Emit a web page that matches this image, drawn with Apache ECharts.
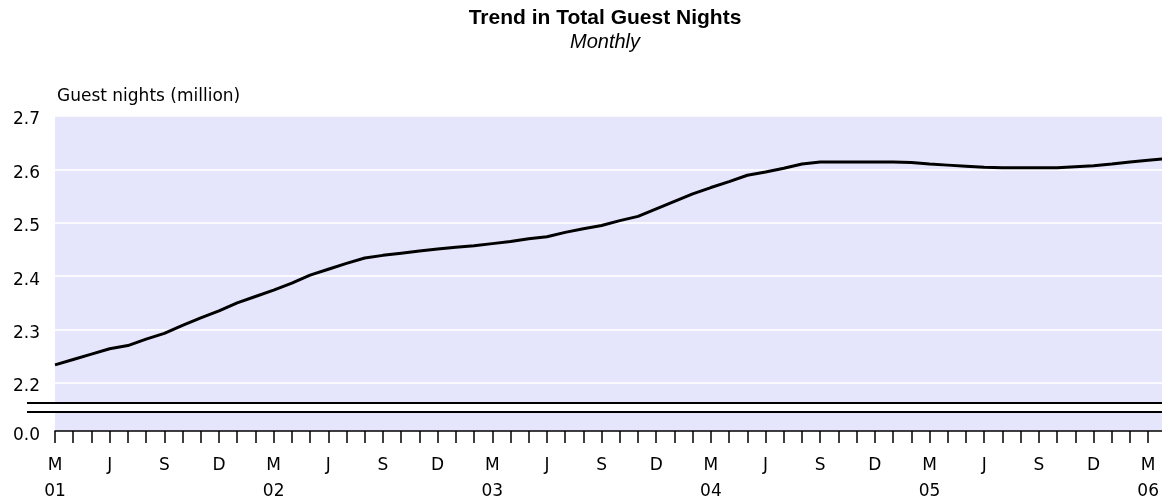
<!DOCTYPE html>
<html>
<head>
<meta charset="utf-8">
<script src="https://cdn.jsdelivr.net/npm/echarts@6.0.0/dist/echarts.min.js"></script>
<style>
  html, body { margin: 0; padding: 0; background: #fff; }
  #main { width: 1162px; height: 499px; }
</style>
</head>
<body>
<div id="main"></div>
<script>
// months shown on the axis, Mar 2001 .. Apr 2006
var months = [
  'Mar 01', 'Apr 01', 'May 01', 'Jun 01', 'Jul 01', 'Aug 01', 'Sep 01', 'Oct 01', 'Nov 01', 'Dec 01', 'Jan 02', 'Feb 02',
  'Mar 02', 'Apr 02', 'May 02', 'Jun 02', 'Jul 02', 'Aug 02', 'Sep 02', 'Oct 02', 'Nov 02', 'Dec 02', 'Jan 03', 'Feb 03',
  'Mar 03', 'Apr 03', 'May 03', 'Jun 03', 'Jul 03', 'Aug 03', 'Sep 03', 'Oct 03', 'Nov 03', 'Dec 03', 'Jan 04', 'Feb 04',
  'Mar 04', 'Apr 04', 'May 04', 'Jun 04', 'Jul 04', 'Aug 04', 'Sep 04', 'Oct 04', 'Nov 04', 'Dec 04', 'Jan 05', 'Feb 05',
  'Mar 05', 'Apr 05', 'May 05', 'Jun 05', 'Jul 05', 'Aug 05', 'Sep 05', 'Oct 05', 'Nov 05', 'Dec 05', 'Jan 06', 'Feb 06',
  'Mar 06', 'Apr 06'
];

// label printed under each monthly tick
var tickLabels = [
  'M\n01', '', '', 'J', '', '', 'S', '', '', 'D', '', '',
  'M\n02', '', '', 'J', '', '', 'S', '', '', 'D', '', '',
  'M\n03', '', '', 'J', '', '', 'S', '', '', 'D', '', '',
  'M\n04', '', '', 'J', '', '', 'S', '', '', 'D', '', '',
  'M\n05', '', '', 'J', '', '', 'S', '', '', 'D', '', '',
  'M\n06', ''
];

// total guest nights, trend, million
var guestNights = [
  2.234, 2.244, 2.254, 2.264, 2.270, 2.282, 2.293, 2.308, 2.322, 2.335, 2.350, 2.362,
  2.374, 2.387, 2.402, 2.413, 2.424, 2.434, 2.439, 2.443, 2.447, 2.451, 2.454, 2.457,
  2.461, 2.465, 2.470, 2.474, 2.482, 2.489, 2.495, 2.504, 2.512, 2.526, 2.540, 2.554,
  2.566, 2.577, 2.589, 2.595, 2.602, 2.610, 2.614, 2.614, 2.614, 2.614, 2.614, 2.613,
  2.610, 2.608, 2.606, 2.604, 2.603, 2.603, 2.603, 2.603, 2.605, 2.607, 2.610, 2.614,
  2.617, 2.620
];

var bgColor = '#e5e5fb';
var axisFont = 'DejaVu Sans';

var chart = echarts.init(document.getElementById('main'), null, { renderer: 'canvas' });

var option = {
  animation: false,
  backgroundColor: '#ffffff',
  title: [
    {
      text: 'Trend in Total Guest Nights',
      subtext: 'Monthly',
      left: 605,
      top: 8,
      textAlign: 'center',
      padding: 0,
      itemGap: 3,
      textStyle: { fontFamily: 'Arial', fontSize: 21, fontWeight: 'bold', color: '#000' },
      subtextStyle: { fontFamily: 'Arial', fontSize: 20, fontStyle: 'italic', color: '#000' }
    },
    {
      text: 'Guest nights (million)',
      left: 57,
      top: 88,
      padding: 0,
      textStyle: { fontFamily: axisFont, fontSize: 17, fontWeight: 'normal', color: '#000' }
    }
  ],
  grid: [
    // upper part of the broken axis
    { left: 55, right: -4.4, top: 116, height: 287, show: true, backgroundColor: bgColor, borderWidth: 0, outerBoundsMode: 'none' },
    // lower part, only the zero line
    { left: 55, right: -4.4, top: 412, height: 19, show: true, backgroundColor: bgColor, borderWidth: 0, outerBoundsMode: 'none' }
  ],
  xAxis: [
    {
      gridIndex: 0,
      type: 'category',
      boundaryGap: false,
      data: months,
      show: false
    },
    {
      gridIndex: 1,
      type: 'category',
      boundaryGap: false,
      data: months,
      axisLine: { lineStyle: { color: '#000', width: 1.5 } },
      axisTick: { interval: 0, length: 12, lineStyle: { color: '#000', width: 1.5 } },
      splitLine: { show: false },
      axisLabel: {
        interval: 0,
        margin: 22,
        fontFamily: axisFont,
        fontSize: 17,
        lineHeight: 26,
        color: '#000',
        formatter: function (v, i) { return tickLabels[i]; }
      }
    }
  ],
  yAxis: [
    {
      gridIndex: 0,
      type: 'value',
      min: 2.1625,
      max: 2.7,
      splitNumber: 5,
      axisLine: { show: false },
      axisTick: { show: false },
      splitLine: { lineStyle: { color: '#ffffff', width: 1.5 } },
      axisLabel: {
        margin: 15,
        fontFamily: axisFont,
        fontSize: 17,
        color: '#000',
        verticalAlign: 'top',
        lineHeight: 8,
        formatter: function (v) {
          return Math.abs(v * 10 - Math.round(v * 10)) < 1e-6 ? v.toFixed(1) : '';
        }
      }
    },
    {
      gridIndex: 1,
      type: 'value',
      min: 0,
      max: 1,
      interval: 1,
      axisLine: { show: false },
      axisTick: { show: false },
      splitLine: { show: false },
      axisLabel: {
        margin: 15,
        fontFamily: axisFont,
        fontSize: 17,
        color: '#000',
        verticalAlign: 'top',
        lineHeight: 10,
        formatter: function (v) { return v === 0 ? '0.0' : ''; }
      }
    }
  ],
  // the two lines of the axis break
  graphic: [
    { type: 'line', shape: { x1: 27, y1: 403, x2: 1162, y2: 403 }, style: { stroke: '#000', lineWidth: 2 }, z: 100 },
    { type: 'line', shape: { x1: 27, y1: 412, x2: 1162, y2: 412 }, style: { stroke: '#000', lineWidth: 2 }, z: 100 }
  ],
  series: [
    {
      name: 'Guest nights',
      type: 'line',
      xAxisIndex: 0,
      yAxisIndex: 0,
      data: guestNights,
      showSymbol: false,
      silent: true,
      lineStyle: { color: '#000', width: 3 }
    }
  ]
};

chart.setOption(option);
</script>
</body>
</html>
